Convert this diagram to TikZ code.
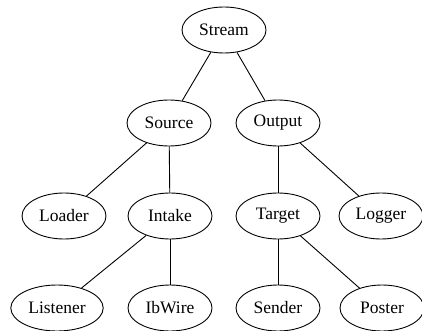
\documentclass[tikz,border=0pt]{standalone}
\usepackage{fontspec}
\setmainfont{Liberation Serif}
\usepackage{tikz}
\usetikzlibrary{shapes.geometric}

\begin{document}
\begin{tikzpicture}[x=1pt,y=-1pt,
        part/.style={draw,ellipse,line width=0.9pt,minimum width=84pt,
            minimum height=46pt,inner xsep=4pt,font=\fontsize{17.5}{20}\selectfont},
        link/.style={line width=0.9pt}]
            \useasboundingbox (0,0) rectangle (422,331);
            \node[part] (stream) at (224,30) {Stream};
            \node[part] (source) at (169,123) {Source};
            \node[part] (output) at (278,123) {Output};
            \node[part] (loader) at (64,216) {Loader};
            \node[part] (intake) at (170,216) {Intake};
            \node[part] (target) at (278,216) {Target};
            \node[part] (logger) at (381,216) {Logger};
            \node[part] (listener) at (57,308) {Listener};
            \node[part] (ibwire) at (170,308) {IbWire};
            \node[part] (sender) at (278,308) {Sender};
            \node[part] (poster) at (382,308) {Poster};
            \draw[link] (stream) -- (source);
            \draw[link] (stream) -- (output);
            \draw[link] (source) -- (loader);
            \draw[link] (source) -- (intake);
            \draw[link] (output) -- (target);
            \draw[link] (output) -- (logger);
            \draw[link] (intake) -- (listener);
            \draw[link] (intake) -- (ibwire);
            \draw[link] (target) -- (sender);
            \draw[link] (target) -- (poster);
        \end{tikzpicture}
\end{document}
